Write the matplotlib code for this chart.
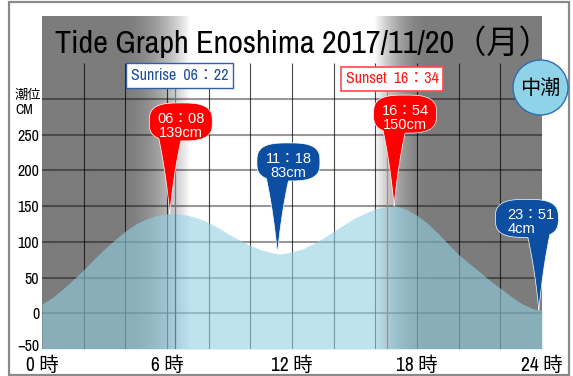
import numpy as np
import matplotlib
matplotlib.use("Agg")
import matplotlib.pyplot as plt
from matplotlib import font_manager
from matplotlib.path import Path
from matplotlib.patches import PathPatch, Circle, Rectangle
import matplotlib.transforms as mtransforms

# ---------------- data ----------------
hours = [0, 0.5, 1, 1.5, 2, 2.5, 3, 3.5, 4, 4.5, 5, 5.5, 6, 6.13, 6.5, 7, 7.5, 8,
         8.5, 9, 9.5, 10, 10.5, 11, 11.3, 11.5, 12, 12.5, 13, 13.5, 14, 14.5, 15,
         15.5, 16, 16.5, 16.9, 17, 17.5, 18, 18.5, 19, 19.5, 20, 20.5, 21, 21.5,
         22, 22.5, 23, 23.5, 23.85, 24]
levels = [13, 22, 34, 47, 61, 76, 90, 103, 115, 125, 132, 137, 139, 139, 139, 137,
          133, 127, 119, 110, 102, 95, 89, 85, 83, 83, 86, 90, 97, 105, 115, 124,
          133, 140, 146, 149, 150, 150, 145, 137, 126, 112, 97, 82, 70, 58, 46,
          35, 24, 14, 7, 4, 5]

sunrise = 6 + 22 / 60
sunset = 16 + 34 / 60
sunrise_label = "Sunrise  06：22"
sunset_label = "Sunset  16：34"

peak_times = [6 + 8 / 60, 11 + 18 / 60, 16 + 54 / 60, 23 + 51 / 60]
peak_levels = [139, 83, 150, 4]
peak_labels = ["06：08\n139cm", "11：18\n83cm", "16：54\n150cm", "23：51\n4cm"]
peak_kind = ["high", "low", "high", "low"]

title = "Tide Graph Enoshima 2017/11/20（月）"
tide_name = "中潮"
xtick_vals = [0, 6, 12, 18, 24]
xtick_labels = ["0 時", "6 時", "12 時", "18 時", "24 時"]
ytick_vals = [-50, 0, 50, 100, 150, 200, 250]
ytick_labels = ["−50", "0", "50", "100", "150", "200", "250"]

# ---------------- fonts ----------------
names = {f.name for f in font_manager.fontManager.ttflist}
if "Archivo Narrow" in names:
    NARROW, K = "Archivo Narrow", 1.0
elif "Liberation Sans Narrow" in names:
    NARROW, K = "Liberation Sans Narrow", 1.0
else:
    NARROW, K = "Liberation Sans", 0.82
CJK = "Noto Sans CJK JP"
FN = [NARROW, CJK]
FS = ["Liberation Sans", CJK]

W, H = 573, 376
fig = plt.figure(figsize=(W / 100, H / 100), dpi=100)
fig.patch.set_facecolor("white")

L, R, B, T = 42, 542, 349, 16
ax = fig.add_axes([L / W, (H - B) / H, (R - L) / W, (B - T) / H])
YTOP = 416
ax.set_xlim(0, 24)
ax.set_ylim(-50, YTOP)
for s in ax.spines.values():
    s.set_visible(False)

# ---------------- background (night gray / day white) ----------------
gray = 124 / 255
tt = np.linspace(0, 24, 1200)
a1, b1 = sunrise - 2.6, sunrise + 0.75
a2, b2 = sunset - 0.6, sunset + 2.05
day = np.zeros_like(tt)
m = (tt > a1) & (tt < b1)
day[m] = ((tt[m] - a1) / (b1 - a1)) ** 2
day[(tt >= b1) & (tt <= a2)] = 1
m = (tt > a2) & (tt < b2)
day[m] = ((b2 - tt[m]) / (b2 - a2)) ** 2
col = gray + (1 - gray) * day
img = np.repeat(col[None, :, None], 3, axis=2)
ax.imshow(img, extent=[0, 24, -50, YTOP], aspect="auto", zorder=0,
          interpolation="bilinear")

# grid
ax.hlines(np.arange(0, 301, 50), 0, 24, colors="black", alpha=0.4, lw=1.5, zorder=1)
ax.vlines(np.arange(2, 24, 2), -50, 350, colors="black", alpha=0.72, lw=0.8, zorder=1)

# tide fill
ax.fill_between(hours, -50, levels, color="#91d2e3", alpha=0.6, lw=0, zorder=2)

# sunrise / sunset lines and boxes
ax.vlines(sunrise, -50, 318, colors="#4f7fc0", lw=0.9, zorder=3)
ax.vlines(sunset, -50, 312, colors="#e87070", lw=0.9, zorder=3)
off = mtransforms.offset_copy(ax.transData, fig=fig, x=5, y=0, units="dots")
ax.text(sunrise, 333, sunrise_label, transform=off, ha="center", va="center",
        fontsize=11.5 * K, color="#1f4e9c", family=FN, zorder=4,
        bbox=dict(boxstyle="square,pad=0.3", fc="white", ec="#2f5fa8", lw=1.0))
ax.text(sunset, 328, sunset_label, transform=off, ha="center", va="center",
        fontsize=11.5 * K, color="#ff1a1a", family=FN, zorder=4,
        bbox=dict(boxstyle="square,pad=0.3", fc="white", ec="#ff4a4a", lw=1.2))


# ---------------- balloons ----------------
def balloon_path(cx, cy=92.0, w=31.5, h=19.0, n=3.0, tail=11.0):
    def theta_for(u):
        c = np.sign(u) * abs(u) ** (n / 2)
        return -np.arccos(np.clip(c, -1, 1))
    ur = (tail - cx) / w
    ul = (-tail - cx) / w
    th = np.linspace(theta_for(ur), theta_for(ul) + 2 * np.pi, 160)
    c, s = np.cos(th), np.sin(th)
    bx = cx + w * np.sign(c) * np.abs(c) ** (2 / n)
    by = cy + h * np.sign(s) * np.abs(s) ** (2 / n)
    Lp = np.array([bx[-1], by[-1]])
    Rp = np.array([bx[0], by[0]])
    q = np.linspace(0, 1, 40)[:, None]
    CL = np.array([Lp[0] * 0.35, Lp[1] * 0.55])
    CR = np.array([Rp[0] * 0.35, Rp[1] * 0.55])
    tip = np.array([0.0, 0.0])
    left = (1 - q) ** 2 * Lp + 2 * (1 - q) * q * CL + q ** 2 * tip
    right = (1 - q) ** 2 * tip + 2 * (1 - q) * q * CR + q ** 2 * Rp
    pts = np.vstack([np.column_stack([bx, by]), left[1:], right[1:-1]])
    return Path(np.vstack([pts, pts[:1]]), closed=True)


colors = {"high": "#ff0000", "low": "#0b4ea2"}
for i, (t, v, lab, kind) in enumerate(zip(peak_times, peak_levels, peak_labels, peak_kind)):
    last = i == len(peak_times) - 1
    cx = -12.0 if last else 11.0
    tr = mtransforms.ScaledTranslation(t, v, ax.transData)
    p = PathPatch(balloon_path(cx), transform=tr, fc=colors[kind],
                  ec="white", lw=0.5, zorder=5, clip_on=False)
    ax.add_patch(p)
    ax.annotate(lab, xy=(t, v), xytext=(cx + (4 if last else 0), 88),
                textcoords="offset pixels", ha="center", va="center",
                multialignment="left" if last else "center",
                color="white", fontsize=10.5, family=FS, linespacing=1.0, zorder=6)

# ---------------- axes labels ----------------
ax.set_xticks(xtick_vals)
ax.set_xticklabels(xtick_labels, family=FN, fontsize=14 * K)
ax.set_yticks(ytick_vals)
ax.set_yticklabels(ytick_labels, family=FN, fontsize=11.5 * K)
ax.tick_params(axis="both", length=0)
ax.tick_params(axis="x", pad=5)
ax.tick_params(axis="y", pad=2)
lab0 = ax.get_yticklabels()[0]
lab0.set_transform(lab0.get_transform()
                   + mtransforms.ScaledTranslation(0, 4 / 100, fig.dpi_scale_trans))

fig.text(15 / W, (H - 96) / H, "潮位", ha="left", va="center", fontsize=9.5,
         family=[CJK], color="black")
fig.text(15 / W, (H - 110) / H, "CM", ha="left", va="center", fontsize=10 * K,
         family=FN, color="black", fontweight="bold")

# title
fig.text(303 / W, (H - 53) / H, title, ha="center", va="baseline",
         fontsize=23.2 * K, family=FN, color="black")

# tide-name circle
circ = Circle((540.5, H - 87.5), 27.5, transform=mtransforms.IdentityTransform(),
              fc="#8fd3e8", ec="#2f6db5", lw=1.0, zorder=10)
fig.patches.append(circ)
fig.text(540.5 / W, (H - 88) / H, tide_name, ha="center", va="center",
         fontsize=14.5, family=[CJK], color="black", zorder=11)

# outer frame
frame = Rectangle((8.5, 1.0), 560, 373.5, transform=mtransforms.IdentityTransform(),
                  fill=False, ec="#8a8a8a", lw=1.6)
fig.patches.append(frame)

fig.savefig("out.png", dpi=100)
